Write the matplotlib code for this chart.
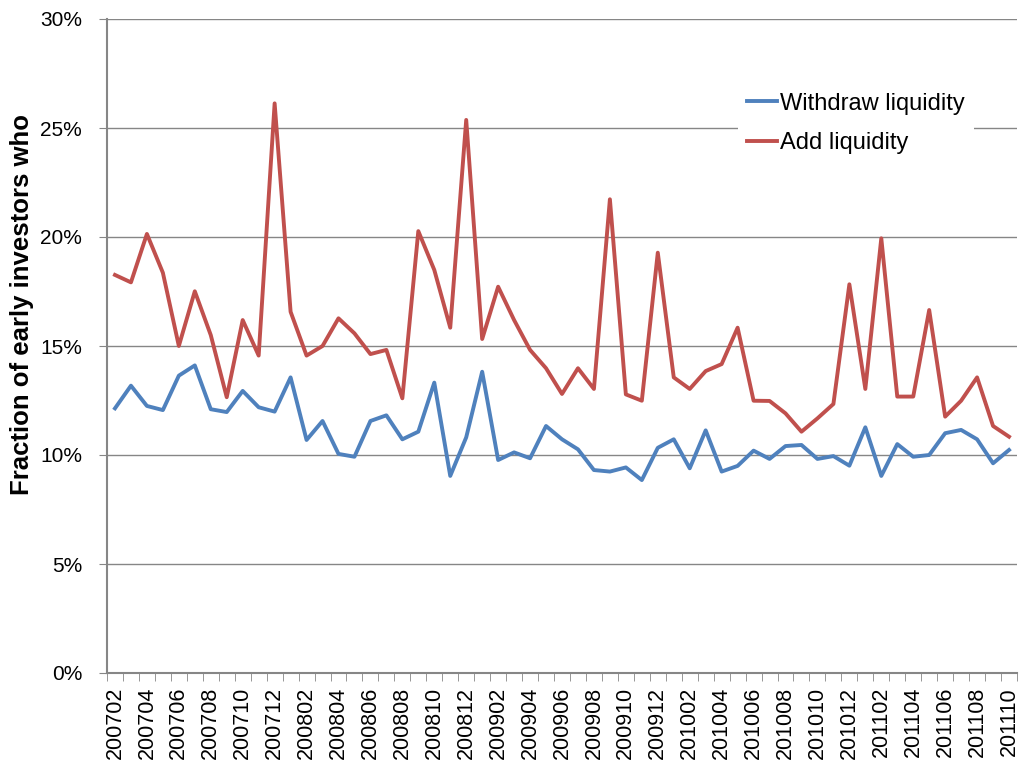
import numpy as np
import matplotlib
matplotlib.use("Agg")
import matplotlib.pyplot as plt
from matplotlib.ticker import FuncFormatter

months = []
for y in range(2007, 2012):
    for m in range(1, 13):
        if (y, m) < (2007, 2) or (y, m) > (2011, 10):
            continue
        months.append(f"{y}{m:02d}")

withdraw = [12.14, 13.18, 12.25, 12.06, 13.64, 14.11, 12.10, 11.97, 12.94, 12.19,
            11.99, 13.56, 10.69, 11.56, 10.05, 9.92, 11.56, 11.82, 10.72, 11.07,
            13.32, 9.04, 10.81, 13.82, 9.77, 10.12, 9.85, 11.33, 10.72, 10.26,
            9.31, 9.24, 9.43, 8.85, 10.33, 10.72, 9.39, 11.13, 9.24, 9.50,
            10.20, 9.82, 10.41, 10.46, 9.82, 9.95, 9.51, 11.27, 9.04, 10.50,
            9.92, 10.00, 11.00, 11.15, 10.72, 9.62, 10.23]
add = [18.26, 17.92, 20.14, 18.36, 15.00, 17.51, 15.50, 12.65, 16.19, 14.56,
       26.13, 16.57, 14.56, 15.00, 16.27, 15.58, 14.63, 14.82, 12.60, 20.27,
       18.49, 15.84, 25.37, 15.32, 17.72, 16.19, 14.82, 13.98, 12.80, 13.98,
       13.03, 21.73, 12.78, 12.49, 19.28, 13.56, 13.03, 13.85, 14.17, 15.84,
       12.49, 12.48, 11.91, 11.07, 11.68, 12.34, 17.83, 13.03, 19.94, 12.68,
       12.68, 16.65, 11.76, 12.49, 13.56, 11.33, 10.84]

x = np.arange(len(months))
grey = "#868686"

fig = plt.figure(figsize=(10.21, 7.7), dpi=100)
ax = fig.add_axes([107/1021, 1 - 673/770, 910/1021, 654/770])

ax.plot(x, withdraw, color="#4F81BD", lw=2.8, label="Withdraw liquidity", zorder=3)
ax.plot(x, add, color="#C0504D", lw=2.8, label="Add liquidity", zorder=3)

ax.set_xlim(-0.5, len(months) - 0.5)
ax.set_ylim(0, 30)
ax.set_yticks(np.arange(0, 31, 5))
ax.yaxis.set_major_formatter(FuncFormatter(lambda v, p: f"{v:.0f}%"))
ax.grid(axis="y", color=grey, lw=1)
ax.set_axisbelow(True)

ax.set_xticks(x[::2])
ax.set_xticklabels(months[::2], rotation=90, fontsize=15.5, family="Liberation Sans")
ax.set_xticks(np.arange(-0.5, len(months), 1), minor=True)
ax.tick_params(axis="x", which="major", length=0, pad=10)
ax.tick_params(axis="x", which="minor", length=6, color=grey, direction="out")
ax.tick_params(axis="y", length=6, color=grey, labelsize=15, pad=12)
for lab in ax.get_yticklabels():
    lab.set_family("Liberation Sans")

for s in ["top", "right"]:
    ax.spines[s].set_visible(False)
for s in ["left", "bottom"]:
    ax.spines[s].set_color(grey)
    ax.spines[s].set_linewidth(1.5)

ax.set_ylabel("Fraction of early investors who", fontsize=18.5, fontweight="bold",
              family="Liberation Sans")
ax.yaxis.set_label_coords(-0.08, 0.563)

leg = ax.legend(loc="upper left", bbox_to_anchor=(0.68, 0.92), fontsize=17,
                frameon=True, fancybox=False, edgecolor="none", facecolor="white",
                framealpha=1, handlelength=1.25, handletextpad=0.15,
                labelspacing=0.75, borderpad=0.4)
for t in leg.get_texts():
    t.set_family("Liberation Sans")

fig.savefig("out.png", dpi=100)
